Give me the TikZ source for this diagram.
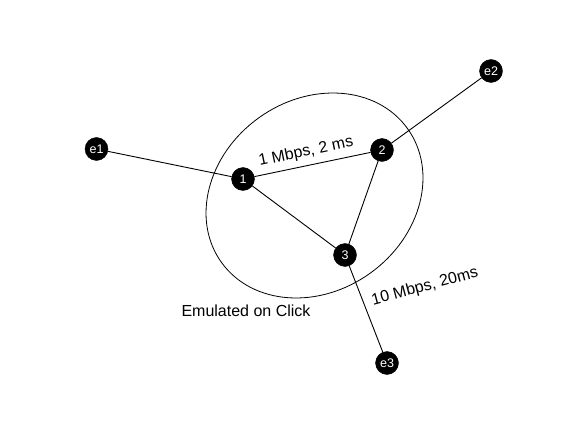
\documentclass[tikz,border=0pt]{standalone}
\usepackage{fontspec}
\setmainfont{Liberation Sans}
\begin{document}
\begin{tikzpicture}[x=1pt,y=-1pt,
  host/.style={circle,fill=black,draw=black,inner sep=0pt,minimum size=23pt,text=white,font=\fontsize{12.5}{12.5}\selectfont},
  link/.style={draw=black,line width=0.9pt},
  lbl/.style={font=\fontsize{16}{16}\selectfont,inner sep=0pt}]
\useasboundingbox[fill=white] (0,0) rectangle (572,430);
\draw[line width=0.8pt,rotate around={35.8:(314.5,195.5)}] (314.5,195.5) ellipse (114.6pt and 95.6pt);
\node[host] (e1) at (96.5,149) {e1};
\node[host] (e2) at (491,71) {e2};
\node[host] (e3) at (387,363) {e3};
\node[host] (n1) at (243,179) {1};
\node[host] (n2) at (382,150) {2};
\node[host] (n3) at (345,255) {3};
\draw[link] (e1) -- (n1);
\draw[link] (n1) -- (n2);
\draw[link] (n2) -- (e2);
\draw[link] (n1) -- (n3);
\draw[link] (n2) -- (n3);
\draw[link] (n3) -- (e3);
\node[lbl,rotate=11.8] (l12) at (306,152) {1 Mbps, 2 ms};
\node[lbl,rotate=15] (l3) at (425,287) {10 Mbps, 20ms};
\node[lbl] (emu) at (246,311) {Emulated on Click};
\end{tikzpicture}
\end{document}
